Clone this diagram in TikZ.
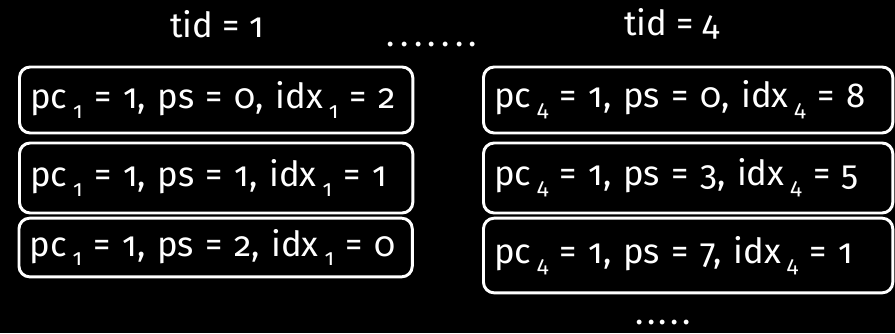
\documentclass[tikz,border=0pt]{standalone}
\usepackage{fontspec}
\setmainfont{Fira Sans}[Numbers=OldStyle]
\usetikzlibrary{positioning}
\newcommand{\tsub}[1]{\,\raisebox{-0.5ex}{\fontsize{17}{17}\selectfont #1}}

\begin{document}
\begin{tikzpicture}[
  x=0.75pt,y=-0.75pt,
  every node/.style={font=\fontsize{26}{30}\selectfont,text=white},
  state/.style={draw=white,line width=2.2pt,rounded corners=8pt,anchor=west,
    align=left,inner xsep=8pt,inner ysep=0pt},
  lstate/.style={state,text width=279pt},
  rstate/.style={state,text width=291pt},
  dots/.style={anchor=base,inner sep=0pt}
]
\fill[black] (0,0) rectangle (895,333);

% thread 1
\node[anchor=base] (tidA) at (217,37) {tid = 1};
\node[lstate,minimum height=49.5pt] (a1) at (18,100)
  {pc\tsub{1} = 1, ps = 0, idx\tsub{1} = 2};
\node[lstate,minimum height=52.5pt] (a2) at (18,178)
  {pc\tsub{1} = 1, ps = 1, idx\tsub{1} = 1};
\node[lstate,minimum height=44pt] (a3) at (17.5,247.5)
  {pc\tsub{1} = 1, ps = 2, idx\tsub{1} = 0};

% thread 4
\node[anchor=base] (tidD) at (672,35) {tid = 4};
\node[rstate,minimum height=49.5pt] (b1) at (482,100)
  {pc\tsub{4} = 1, ps = 0, idx\tsub{4} = 8};
\node[rstate,minimum height=52.5pt] (b2) at (482,178)
  {pc\tsub{4} = 1, ps = 3, idx\tsub{4} = 5};
\node[rstate,minimum height=56pt] (b3) at (482,255.5)
  {pc\tsub{4} = 1, ps = 7, idx\tsub{4} = 1};

% dots
\node[dots] (gap) at (432,46) {.\kern4pt.\kern4pt.\kern4pt.\kern4pt.\kern4pt.\kern4pt.};
\node[dots] (more) at (663,324) {.\kern2.5pt.\kern2.5pt.\kern2.5pt.\kern2.5pt.};
\end{tikzpicture}
\end{document}
